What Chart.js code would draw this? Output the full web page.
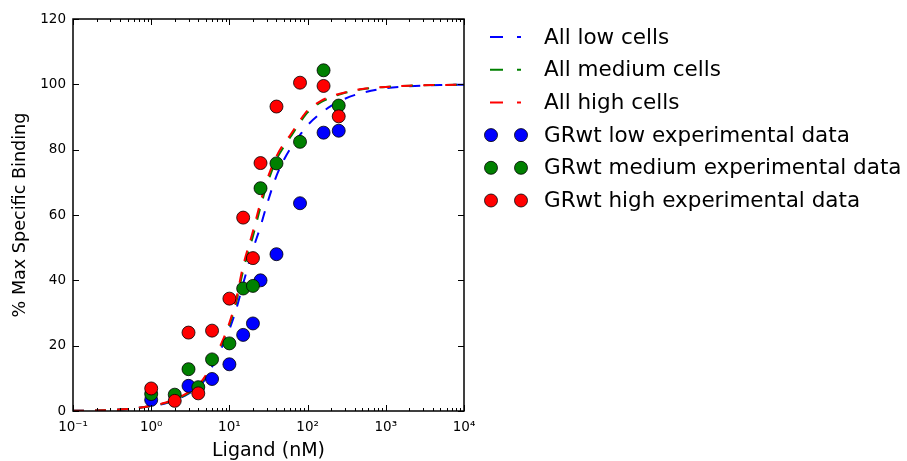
<!DOCTYPE html>
<html>
<head>
<meta charset="UTF-8">
<title>Ligand binding</title>
<script src="https://cdn.jsdelivr.net/npm/chart.js"></script>
<style>
  body { margin: 0; background: #fff; }
  canvas { display: block; }
</style>
</head>
<body>
<canvas id="binding" width="907" height="461"></canvas>
<script>
// fitted curves, sampled along the ligand axis (nM)
const curveLigand = [0.1, 0.2, 0.3, 0.5, 0.7, 1, 1.5, 2, 3, 4, 5, 6, 8, 10, 12, 15, 20, 25, 30, 40, 50, 60, 80, 100, 150, 200, 300, 500, 1000, 2000, 5000, 10000];
const lowFit  = [0.05, 0.15, 0.3, 0.6, 1.0, 1.5, 2.3, 3.3, 5.3, 7.4, 10.0, 13.5, 19.5, 25.0, 30.5, 39.0, 49.5, 56.5, 63.0, 72.0, 77.0, 80.3, 84.5, 87.5, 91.3, 93.4, 95.6, 97.4, 98.8, 99.4, 99.8, 99.9];
const medFit  = [0.05, 0.15, 0.3, 0.6, 1.0, 1.5, 2.4, 3.4, 5.5, 7.8, 10.6, 14.3, 20.5, 26.3, 32.5, 43.0, 53.5, 62.5, 69.0, 77.0, 81.0, 83.8, 88.3, 91.4, 94.6, 96.0, 97.4, 98.5, 99.2, 99.6, 99.8, 99.9];
const highFit = [0.05, 0.15, 0.3, 0.6, 1.0, 1.6, 2.5, 3.5, 5.8, 8.0, 11.0, 15.0, 21.0, 27.0, 33.5, 44.5, 55.0, 64.0, 70.5, 78.0, 82.0, 84.5, 89.0, 92.0, 95.0, 96.3, 97.5, 98.6, 99.2, 99.6, 99.8, 99.9];

// measured binding, % of max
const pointLigand = [1, 2, 3, 4, 6, 10, 15, 20, 25, 40, 80, 160, 250];
const lowData  = [3.4, null, 7.7, null, 9.8, 14.3, 23.3, 26.8, 40.0, 48.0, 63.6, 85.2, 85.8];
const medData  = [5.2, 5.0, 12.8, 7.3, 15.8, 20.7, 37.5, 38.3, 68.2, 75.8, 82.4, 104.3, 93.5];
const highData = [6.9, 3.1, 24.0, 5.4, 24.6, 34.4, 59.2, 46.8, 75.9, 93.2, 100.5, 99.5, 90.2];

const xTicks = [0.1, 1, 10, 100, 1000, 10000];
const xTickLabels = ['10⁻¹', '10⁰', '10¹', '10²', '10³', '10⁴'];
const yTicks = [0, 20, 40, 60, 80, 100, 120];

const seriesNames = ['All low cells', 'All medium cells', 'All high cells',
  'GRwt low experimental data', 'GRwt medium experimental data', 'GRwt high experimental data'];
const colors = ['#0000ff', '#008000', '#ff0000'];

const FONT = 'DejaVu Sans';

function pairs(xs, ys) {
  return xs.map((x, i) => ({ x: x, y: ys[i] })).filter(p => p.y !== null);
}

function fitSet(i, ys) {
  return {
    label: seriesNames[i], data: pairs(curveLigand, ys), showLine: true,
    borderColor: colors[i], borderWidth: 2, borderDash: [11, 11],
    pointRadius: 0, cubicInterpolationMode: 'monotone', order: 10 - i
  };
}

function dataSet(i, ys) {
  return {
    label: seriesNames[i + 3], data: pairs(pointLigand, ys), showLine: false,
    backgroundColor: colors[i], borderColor: '#000', borderWidth: 0.8,
    pointRadius: 6.5, order: 3 - i
  };
}

// box, inward ticks on all four sides
const framePlugin = {
  id: 'frame',
  afterDatasetsDraw(chart) {
    const { ctx, chartArea: a, scales: { x, y } } = chart;
    ctx.save();
    ctx.strokeStyle = '#000';
    ctx.lineWidth = 1;
    ctx.beginPath();
    const major = 6, minor = 3;
    xTicks.forEach((d, i) => {
      const px = Math.round(x.getPixelForValue(d)) + 0.5;
      ctx.moveTo(px, a.bottom); ctx.lineTo(px, a.bottom - major);
      ctx.moveTo(px, a.top); ctx.lineTo(px, a.top + major);
      if (i === xTicks.length - 1) return;
      for (let k = 2; k <= 9; k++) {
        const mx = Math.round(x.getPixelForValue(k * d)) + 0.5;
        ctx.moveTo(mx, a.bottom); ctx.lineTo(mx, a.bottom - minor);
        ctx.moveTo(mx, a.top); ctx.lineTo(mx, a.top + minor);
      }
    });
    yTicks.forEach(v => {
      const py = Math.round(y.getPixelForValue(v)) + 0.5;
      ctx.moveTo(a.left, py); ctx.lineTo(a.left + major, py);
      ctx.moveTo(a.right, py); ctx.lineTo(a.right - major, py);
    });
    ctx.stroke();
    ctx.lineWidth = 1.5;
    ctx.strokeRect(a.left, a.top, a.right - a.left, a.bottom - a.top);
    ctx.restore();
  }
};

// legend to the right of the axes
const legendPlugin = {
  id: 'sideLegend',
  afterDraw(chart) {
    const ctx = chart.ctx;
    const x0 = 490, x1 = 521, textX = 544, top = 37, step = 32.7;
    ctx.save();
    ctx.font = '21.5px "' + FONT + '"';
    ctx.textBaseline = 'middle';
    ctx.fillStyle = '#000';
    chart.data.datasets.forEach((ds, row) => {
      const cy = top + row * step;
      if (ds.showLine) {
        // long dash, then the clipped start of the next one
        ctx.strokeStyle = ds.borderColor;
        ctx.lineWidth = ds.borderWidth;
        ctx.setLineDash([13, 14]);
        ctx.beginPath();
        ctx.moveTo(x0, cy); ctx.lineTo(x1, cy);
        ctx.stroke();
        ctx.setLineDash([]);
      } else {
        [x0 + 1, x1].forEach(cx => {
          ctx.beginPath();
          ctx.arc(cx, cy, ds.pointRadius, 0, Math.PI * 2);
          ctx.fillStyle = ds.backgroundColor;
          ctx.fill();
          ctx.lineWidth = ds.borderWidth;
          ctx.strokeStyle = ds.borderColor;
          ctx.stroke();
        });
      }
      ctx.fillStyle = '#000';
      ctx.fillText(ds.label, textX, cy + 1);
    });
    ctx.restore();
  }
};

new Chart(document.getElementById('binding'), {
  type: 'scatter',
  data: {
    datasets: [
      fitSet(0, lowFit), fitSet(1, medFit), fitSet(2, highFit),
      dataSet(0, lowData), dataSet(1, medData), dataSet(2, highData)
    ]
  },
  options: {
    responsive: false,
    animation: false,
    devicePixelRatio: 1,
    layout: { padding: { top: 19, right: 443, left: 0, bottom: 0 } },
    plugins: { legend: { display: false }, tooltip: { enabled: false } },
    scales: {
      x: {
        type: 'logarithmic', min: 0.1, max: 10000,
        afterBuildTicks: s => { s.ticks = xTicks.map(v => ({ value: v })); },
        afterFit: s => { s.height = 50; },
        grid: { display: false, drawTicks: false },
        border: { display: false },
        ticks: {
          color: '#000', padding: 8, maxRotation: 0, autoSkip: false,
          font: { family: FONT, size: 13.5 },
          callback: (v, i) => xTickLabels[i]
        },
        title: {
          display: true, text: 'Ligand (nM)', color: '#000',
          font: { family: FONT, size: 19, lineHeight: 1 }, padding: 0
        }
      },
      y: {
        min: 0, max: 120,
        afterBuildTicks: s => { s.ticks = yTicks.map(v => ({ value: v })); },
        afterFit: s => { s.width = 73; },
        grid: { display: false, drawTicks: false },
        border: { display: false },
        ticks: {
          color: '#000', padding: 7,
          font: { family: FONT, size: 13.5 }
        },
        title: {
          display: true, text: '% Max Specific Binding', color: '#000',
          font: { family: FONT, size: 17.6 }, padding: { top: 10, bottom: 0 }
        }
      }
    }
  },
  plugins: [framePlugin, legendPlugin]
});
</script>
</body>
</html>
